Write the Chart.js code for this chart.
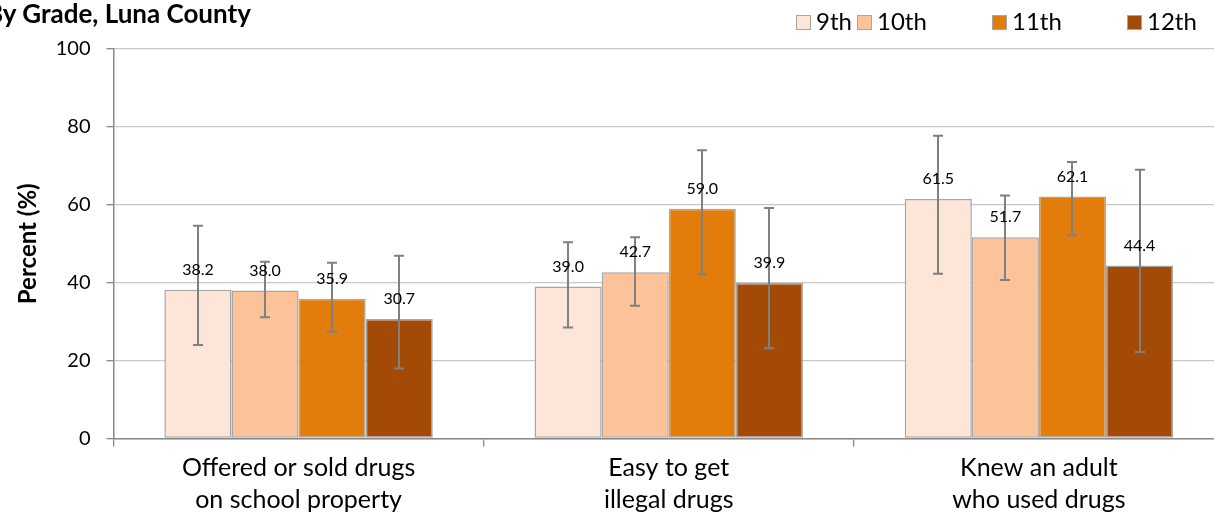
<!DOCTYPE html>
<html>
<head>
<meta charset="utf-8">
<script src="https://cdn.jsdelivr.net/npm/chart.js@4.4.1/dist/chart.umd.min.js"></script>
<style>
  html, body { margin: 0; padding: 0; background: #fff; overflow: hidden; width: 1214px; height: 525px; }
  #wrap { position: absolute; left: 0; top: 0; width: 1224px; height: 525px; }
  #title { position: absolute; left: -14px; top: -2px; font: bold 26px Lato, sans-serif; line-height: 30px; color: #000; white-space: nowrap; }
  .leg { position: absolute; top: 6px; font: 24px Lato, sans-serif; line-height: 29px; color: #000; white-space: nowrap; }
  .leg span.box { display: inline-block; width: 13px; height: 13px; border: 1.5px solid #a6a6a6; vertical-align: 0px; margin-right: 5px; }
</style>
</head>
<body>
<div id="wrap"><canvas id="c"></canvas></div>
<div id="title">By Grade, Luna County</div>
<div id="legend"></div>
<script>
const categories = [["Offered or sold drugs", "on school property"], ["Easy to get", "illegal drugs"], ["Knew an adult", "who used drugs"]];
const grades = ["9th", "10th", "11th", "12th"];
const yTicks = [0, 20, 40, 60, 80, 100];

const values9th  = [38.2, 39.0, 61.5];
const values10th = [38.0, 42.7, 51.7];
const values11th = [35.9, 59.0, 62.1];
const values12th = [30.7, 39.9, 44.4];

const low9th  = [24.0, 28.5, 42.3];
const high9th = [54.6, 50.4, 77.7];
const low10th  = [31.1, 34.1, 40.7];
const high10th = [45.4, 51.7, 62.4];
const low11th  = [27.4, 42.2, 52.2];
const high11th = [45.1, 74.0, 71.0];
const low12th  = [18.0, 23.2, 22.2];
const high12th = [46.9, 59.2, 69.0];

const colors = ["#fde5d7", "#fcc39a", "#e27c0a", "#a34a06"];
const legendLeft = [796, 857, 992, 1127];

const seriesValues = [values9th, values10th, values11th, values12th];
const seriesLow = [low9th, low10th, low11th, low12th];
const seriesHigh = [high9th, high10th, high11th, high12th];

// HTML legend
const legendEl = document.getElementById('legend');
grades.forEach((g, i) => {
  const d = document.createElement('div');
  d.className = 'leg';
  d.style.left = legendLeft[i] + 'px';
  d.innerHTML = '<span class="box" style="background:' + colors[i] + '"></span>' + g;
  legendEl.appendChild(d);
});

const errorBars = {
  id: 'errorBars',
  afterDatasetsDraw(chart) {
    const ctx = chart.ctx;
    const y = chart.scales.y;
    ctx.save();
    ctx.strokeStyle = '#808080';
    ctx.lineWidth = 2;
    chart.data.datasets.forEach((ds, i) => {
      const meta = chart.getDatasetMeta(i);
      meta.data.forEach((el, j) => {
        const x = Math.round(el.x);
        const yt = y.getPixelForValue(seriesHigh[i][j]);
        const yb = y.getPixelForValue(seriesLow[i][j]);
        ctx.beginPath();
        ctx.moveTo(x, yt); ctx.lineTo(x, yb);
        ctx.moveTo(x - 5, yt); ctx.lineTo(x + 5, yt);
        ctx.moveTo(x - 5, yb); ctx.lineTo(x + 5, yb);
        ctx.stroke();
      });
    });
    ctx.restore();
  }
};

const valueLabels = {
  id: 'valueLabels',
  afterDatasetsDraw(chart) {
    const ctx = chart.ctx;
    ctx.save();
    ctx.font = '16px Lato, sans-serif';
    ctx.fillStyle = '#000';
    ctx.textAlign = 'center';
    ctx.textBaseline = 'middle';
    chart.data.datasets.forEach((ds, i) => {
      const meta = chart.getDatasetMeta(i);
      meta.data.forEach((el, j) => {
        ctx.fillText(seriesValues[i][j].toFixed(1), el.x, el.y - 20);
      });
    });
    ctx.restore();
  }
};

new Chart(document.getElementById('c'), {
  type: 'bar',
  data: {
    labels: categories,
    datasets: grades.map((g, i) => ({
      label: g,
      data: seriesValues[i],
      backgroundColor: colors[i],
      borderColor: '#a6a6a6',
      borderWidth: 1.5,
      borderSkipped: false,
      categoryPercentage: 0.725,
      barPercentage: 1.0
    }))
  },
  options: {
    responsive: true,
    maintainAspectRatio: false,
    animation: false,
    layout: { padding: { top: 49, right: 0, left: 0, bottom: 0 } },
    plugins: { legend: { display: false }, title: { display: false }, tooltip: { enabled: false } },
    scales: {
      x: {
        grid: { offset: true, drawOnChartArea: false, drawTicks: true, tickLength: 8, tickColor: '#888', lineWidth: 1.3 },
        border: { color: '#888', width: 1.5 },
        ticks: { color: '#000', font: { family: 'Lato', size: 25, lineHeight: 1.3 }, padding: 5, maxRotation: 0 },
        afterFit(scale) { scale.height = 86.5; }
      },
      y: {
        min: 0, max: 100,
        afterBuildTicks(scale) { scale.ticks = yTicks.map(v => ({ value: v })); },
        grid: { color: '#c8c8c8', lineWidth: 1.3, tickLength: 7, tickColor: '#888' },
        border: { color: '#888', width: 1.5 },
        ticks: { color: '#000', font: { family: 'Lato', size: 20 }, padding: 16 },
        title: { display: true, text: 'Percent (%)', color: '#000', font: { family: 'Lato', size: 24, weight: 'bold' }, padding: { top: 14, bottom: 0 } },
        afterFit(scale) { scale.width = 113.5; }
      }
    }
  },
  plugins: [errorBars, valueLabels]
});
</script>
</body>
</html>
